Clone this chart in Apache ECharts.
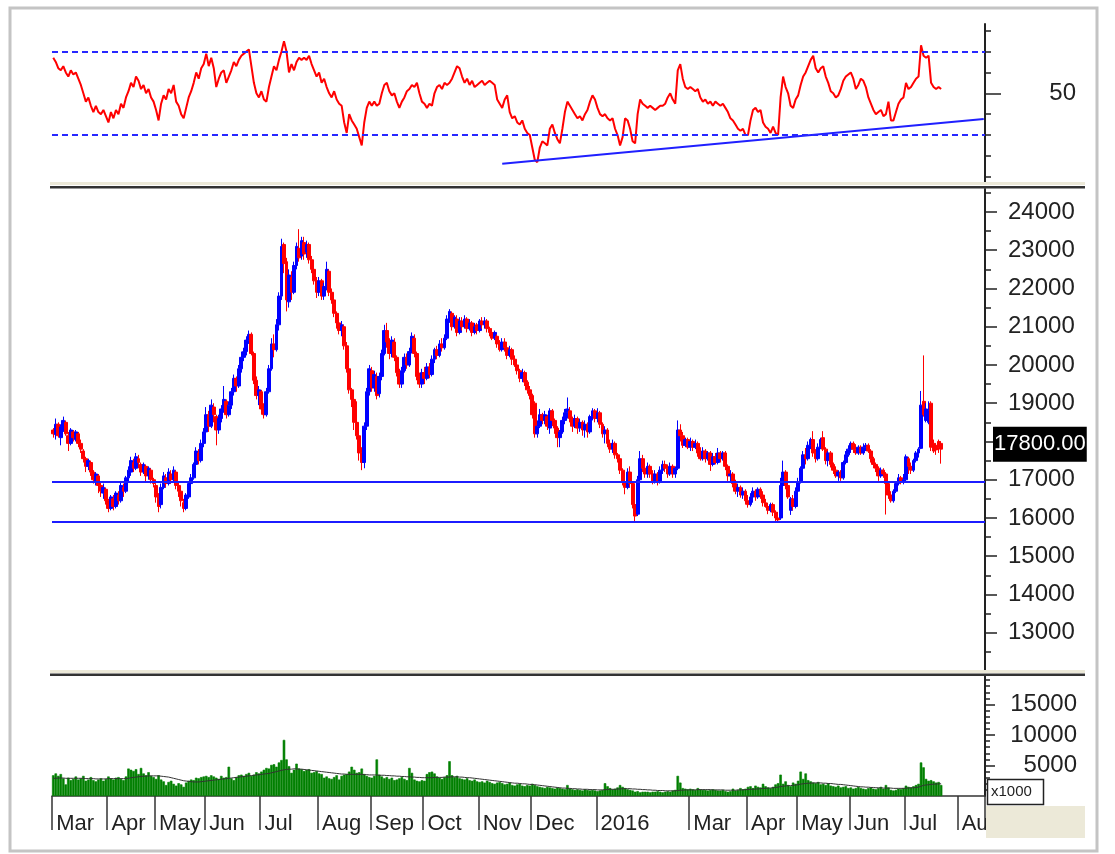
<!DOCTYPE html>
<html><head><meta charset="utf-8">
<script src="https://cdn.jsdelivr.net/npm/echarts@6/dist/echarts.min.js"></script>
<style>html,body{margin:0;padding:0;background:#fff}#c{width:1115px;height:854px}</style>
</head><body><div id="c"></div>
<script>
// ---------- DATA ----------
const monthNames = ['Mar','Apr','May','Jun','Jul','Aug','Sep','Oct','Nov','Dec','2016','Feb','Mar','Apr','May','Jun','Jul','Aug'];
const monthDays  = [22,19,20,22,23,21,21,22,21,26,20,17,23,20,21,22,21,11];
const hiddenMonthLabels = ['Feb'];

// daily candles [open, close, low, high]
const candles = [
// Mar 2015
[18300,18200,18100,18350],[18180,18450,18050,18600],[18450,18150,18100,18500],[18100,18380,17900,18450],[18300,18550,18250,18650],
[18500,18200,18150,18550],[18150,17950,17750,18250],[17950,18300,17900,18350],[18250,18100,18000,18300],[18050,18250,18000,18300],
[18200,17950,17850,18250],[17950,17800,17700,18050],[17750,17550,17450,17800],[17550,17350,17200,17600],[17350,17500,17250,17550],
[17450,17200,17100,17500],[17200,17000,16900,17250],[16950,17150,16850,17200],[17100,16850,16650,17150],[16850,16700,16550,16950],
[16650,16800,16500,16900],[16750,16450,16350,16800],
// Apr
[16450,16250,16150,16500],[16250,16550,16200,16600],[16500,16300,16200,16600],[16300,16650,16250,16700],[16600,16450,16350,16700],
[16450,16850,16400,16950],[16800,16700,16550,16900],[16700,17050,16650,17100],[17050,17250,16950,17350],[17200,17500,17100,17600],
[17450,17300,17200,17550],[17300,17600,17250,17700],[17550,17450,17300,17650],[17400,17200,17100,17450],[17200,17400,17150,17450],
[17350,17100,16950,17400],[17100,17300,17000,17350],[17250,17000,16900,17300],[17000,16900,16800,17050],
// May
[16850,16550,16400,16900],[16550,16300,16150,16650],[16350,16800,16250,16900],[16800,17100,16750,17200],[17050,16900,16800,17150],
[16900,17200,16850,17300],[17150,17000,16900,17250],[17000,17250,16950,17350],[17200,16850,16750,17250],[16850,16700,16550,16950],
[16700,16450,16300,16750],[16400,16250,16150,16500],[16250,16600,16200,16650],[16550,16900,16500,16950],[16900,17050,16800,17150],
[17050,17400,17000,17450],[17400,17750,17300,17850],[17700,17500,17400,17800],[17500,17950,17450,18050],[17950,18250,17850,18350],
// Jun
[18250,18700,18200,18900],[18700,18400,18250,18800],[18400,18950,18350,19100],[18900,18700,18500,19000],[18650,18300,17900,18700],
[18300,18600,18200,18700],[18600,18850,18500,18950],[18850,19100,18750,19450],[19050,18700,18600,19100],[18700,18950,18650,19050],
[18950,19300,18850,19400],[19300,19650,19200,19750],[19650,19450,19300,19700],[19450,19900,19400,20000],[19900,20200,19800,20350],
[20200,20350,20100,20450],[20350,20650,20250,20750],[20650,20800,20550,20900],[20800,20300,20250,20850],[20300,19600,19500,20350],
[19600,19200,19100,19700],[19200,19350,18950,19450],
// Jul
[19300,18850,18700,19350],[18850,18700,18600,19000],[18700,19300,18650,19400],[19300,19900,19250,20000],[19900,20550,19850,20700],
[20550,20400,20200,20800],[20400,21050,20350,21200],[21050,21800,20900,21900],[21800,23100,21700,23300],[23150,22650,22400,23200],
[22700,21700,21400,22800],[21650,22350,21500,22500],[22300,21900,21700,22450],[21900,22600,21850,22700],[22600,23100,22500,23200],
[23050,22800,22700,23550],[22850,23250,22750,23350],[23200,22900,22750,23350],[22950,23150,22800,23250],[23150,22750,22650,23200],
[22750,22500,22400,22850],[22500,22200,22100,22600],[22200,21900,21750,22300],
// Aug
[21900,22200,21800,22300],[22200,21800,21700,22250],[21800,22050,21700,22150],[22050,22500,21950,22700],[22450,21900,21800,22500],
[21900,21700,21600,22000],[21700,21350,21250,21750],[21350,21100,20950,21400],[21100,20900,20800,21200],[20900,21050,20750,21150],
[21000,20500,20400,21050],[20500,19900,19800,20600],[19900,19350,19250,20000],[19350,19100,18900,19400],[19100,18500,18300,19150],
[18500,18150,18050,19050],[18150,17700,17500,18300],[17700,17450,17250,17850],[17450,18400,17300,18500],[18400,19300,18300,19400],
[19300,19900,19200,20000],
// Sep
[19850,19400,19300,19950],[19400,19750,19300,19850],[19700,19200,19100,19800],[19250,19700,19150,19800],[19700,20300,19600,20400],
[20300,20900,20250,21050],[20900,20600,20450,21100],[20600,20300,20150,20700],[20300,20650,20200,20750],[20600,20200,20100,20700],
[20200,19800,19700,20250],[19800,19500,19400,19900],[19500,19850,19400,19950],[19850,20200,19800,20300],[20200,20000,19900,20300],
[20000,20350,19950,20450],[20350,20750,20300,20850],[20700,20300,20200,20800],[20300,19700,19600,20350],[19700,19500,19400,19800],
[19500,19800,19400,19900],
// Oct
[19800,19650,19500,19950],[19650,19950,19600,20050],[19950,19750,19650,20050],[19750,20150,19700,20250],[20150,20400,20050,20450],
[20400,20250,20150,20500],[20250,20550,20200,20650],[20550,20450,20350,20700],[20450,20700,20400,20800],[20700,21200,20650,21300],
[21200,21400,21100,21460],[21350,21000,20900,21400],[21000,21250,20950,21300],[21200,20850,20750,21300],[20850,21150,20800,21250],
[21150,21000,20900,21250],[21000,21200,20950,21300],[21200,20950,20850,21250],[20950,21100,20900,21200],[21100,20850,20750,21150],
[20850,21000,20800,21100],[21050,20900,20800,21100],
// Nov
[20900,21150,20850,21200],[21150,21050,20950,21250],[21050,21150,20950,21250],[21150,20950,20850,21200],[20950,20850,20750,21000],
[20850,20700,20650,20950],[20700,20850,20650,20900],[20750,20550,20450,20800],[20550,20400,20350,20650],[20400,20600,20350,20700],
[20600,20450,20350,20700],[20450,20250,20150,20550],[20250,20400,20200,20500],[20400,20150,20000,20450],[20150,20000,19950,20250],
[20000,19850,19750,20100],[19850,19650,19550,19900],[19650,19800,19550,19900],[19800,19550,19450,19850],[19550,19350,19250,19600],
[19350,19200,19100,19450],
// Dec
[19200,18700,18600,19250],[19000,18200,18100,19050],[18200,18400,18100,18550],[18400,18700,18350,18850],[18700,18550,18450,18750],
[18550,18700,18450,18800],[18650,18400,18300,18700],[18350,18800,18200,18870],[18800,18550,18400,18850],[18550,18350,18200,18600],
[18350,18100,17850,18400],[18100,18250,17850,18300],[18250,18550,18200,18650],[18550,18750,18450,18850],[18750,18850,18600,19150],
[18800,18600,18500,18900],[18600,18400,18250,18650],[18400,18600,18350,18700],[18600,18350,18200,18650],[18350,18500,18250,18600],
[18500,18300,18150,18550],[18300,18450,18100,18550],[18450,18250,18100,18500],[18250,18650,18200,18700],[18650,18800,18550,18870],
[18800,18600,18500,18850],
// Jan 2016
[18600,18750,18500,18870],[18750,18450,18350,18800],[18450,18200,18100,18500],[18200,18300,17950,18400],[18300,17950,17850,18350],
[17950,17800,17700,18050],[17800,17950,17700,18050],[17950,17650,17550,18000],[17650,17550,17450,17700],[17550,17250,17150,17600],
[17250,16950,16850,17300],[16950,16800,16620,17100],[16800,17200,16750,17300],[17200,16900,16800,17350],[16900,16350,16250,16950],
[16350,16050,15920,16400],[16100,17000,16050,17100],[17000,17550,16950,17750],[17550,17300,17200,17650],[17300,17150,17050,17450],
// Feb
[17150,17350,17050,17450],[17350,17150,17050,17400],[17150,16950,16880,17250],[16950,17150,16900,17250],[17150,16950,16850,17200],
[16950,17250,16900,17350],[17250,17400,17150,17500],[17400,17300,17200,17500],[17300,17150,17050,17400],[17150,17350,17100,17450],
[17350,17150,17050,17400],[17150,17300,17050,17350],[17300,18300,17250,18550],[18300,18150,18000,18450],[18150,17900,17830,18250],
[17900,18050,17850,18100],[18050,17850,17800,18100],
// Mar
[17850,18000,17750,18100],[18000,17850,17750,18050],[17850,17950,17800,18050],[17950,17700,17600,18000],[17700,17550,17500,17850],
[17550,17750,17500,17850],[17750,17550,17450,17800],[17550,17700,17500,17750],[17700,17400,17230,17750],[17400,17600,17350,17700],
[17600,17450,17400,17700],[17450,17700,17400,17830],[17700,17550,17450,17750],[17550,17700,17500,17750],[17700,17350,17250,17750],
[17350,17100,16970,17400],[17100,17150,16950,17250],[17150,16900,16800,17200],[16900,16700,16620,17000],[16700,16800,16550,16900],
[16800,16600,16530,16850],[16600,16700,16500,16800],[16700,16450,16350,16750],
// Apr
[16450,16350,16270,16600],[16350,16550,16300,16650],[16550,16700,16400,16800],[16700,16550,16450,16750],[16550,16750,16500,16800],
[16750,16600,16500,16800],[16600,16400,16300,16700],[16400,16300,16270,16500],[16300,16200,16100,16400],[16200,16350,16150,16400],
[16350,16150,16050,16400],[16150,16000,15920,16200],[16000,15950,15900,16150],[16000,16850,15950,17050],[16850,17200,16800,17500],
[17200,16850,16750,17250],[16850,16550,16500,16900],[16200,16500,16080,16550],[16500,16300,16200,16600],[16300,16700,16250,16800],
// May
[16700,16950,16450,17050],[16950,17300,16900,17350],[17300,17650,17250,17750],[17650,17550,17400,17830],[17550,17900,17500,18000],
[17900,18050,17800,18100],[18050,17700,17600,18270],[17700,17550,17450,17800],[17550,17850,17500,17950],[17850,18050,17800,18100],
[18100,17800,17750,18270],[17800,17500,17400,17850],[17500,17700,17350,17750],[17700,17400,17320,17750],[17400,17250,17150,17450],
[17250,17100,17050,17350],[17100,17200,16970,17250],[17200,17050,16970,17250],[17050,17450,17000,17500],[17450,17650,17400,17750],
[17650,17800,17600,17900],
// Jun
[17800,17950,17700,18000],[17950,17800,17700,18000],[17800,17700,17650,17930],[17700,17850,17650,17900],[17850,17700,17650,17900],
[17700,17850,17650,17950],[17850,17900,17750,17960],[17900,17750,17700,17950],[17750,17550,17450,17800],[17550,17400,17300,17600],
[17400,17300,17200,17450],[17300,17100,16970,17350],[17100,17250,17050,17320],[17250,17150,17050,17300],[17150,16900,16090,17200],
[16900,16600,16500,16950],[16600,16450,16400,16700],[16450,16700,16400,16750],[16700,16900,16650,16950],[16900,17050,16850,17150],
[17050,16950,16880,17100],[16950,17000,16880,17150],
// Jul
[17000,17600,16950,17660],[17550,17350,17150,17600],[17350,17250,17150,17450],[17250,17500,17200,17550],[17500,17700,17450,17750],
[17700,17800,17580,17850],[17820,18950,17800,19320],[19050,18700,18650,20250],[18550,18850,18500,19000],[18500,18800,18450,19050],
[19000,17850,17750,19050],[17950,17750,17700,18050],[17900,17780,17650,17950],[18000,17850,17700,18050],[17950,17800,17420,18000]
];

const rsi = [
67,65,62,61,63,60,58,61,59,60, 57,54,50,46,48,44,41,44,41,40, 42,39,36,41,38,42,40,45,43,48,
51,55,53,58,56,52,54,50,52,48, 46,42,37,45,49,47,52,50,54,46, 44,40,38,43,48,51,55,60,57,62,
64,69,63,67,62,53,57,60,61,55, 58,61,65,63,66,68,69,70,71,63, 55,50,48,51,47,46,53,58,63,61,
66,70,75,70,60,64,61,65,67,66, 67,66,68,64,61,58,60,55,57,53, 50,48,51,47,45,44,36,31,40,37,
35,33,29,25,36,43,46,44,46,44, 45,50,54,55,51,49,50,46,43,46, 48,51,52,54,53,55,50,46,45,43,
45,44,50,53,54,52,55,54,55,57, 60,63,62,58,55,57,54,56,53,54, 55,56,54,55,56,55,54,47,45,43,
47,49,41,38,39,36,35,37,33,31, 30,24,18,17,24,27,26,25,33,35, 31,28,26,33,41,46,44,42,40,38,
39,37,40,42,46,49,47,43,40,39, 40,38,37,38,33,30,25,29,38,37, 33,27,26,40,47,45,44,43,44,43,
42,43,44,44,45,48,50,47,45,61, 64,57,53,52,53,52,51,52,48,46, 47,45,46,44,46,45,44,45,43,41,
38,37,35,33,32,33,30,30,37,42, 43,41,42,36,34,33,31,34,31,30, 48,58,53,50,44,43,47,49,54,58,
60,63,66,68,62,60,62,63,58,55, 51,50,48,49,52,56,58,59,60,57, 52,54,57,56,53,48,45,42,40,41,
42,39,40,46,37,37,41,45,47,48, 55,52,53,55,57,58,73,68,67,68, 55,53,52,53,52
];

// volume (x1000)
const volume = [
3400,3700,3300,3600,2900,1900,3000,2600,2800,3200, 2700,2900,3300,2500,2700,3100,2600,2400,2700,2900,
2500,2800,3200,2900,2700,3000,3100,2800,2600,3200, 4500,4300,4100,4400,3600,4600,3700,3400,3900,3300,
3100,2800,3400,2700,2400,1800,2300,2500,2000,1700, 2100,1900,1500,2200,2500,2700,2600,3000,2900,3100,
3200,3300,3100,3400,3200,3000,2800,3300,3000,3100, 4800,2900,2600,3100,3400,3500,3300,3600,3800,3300,
3500,3900,3700,4000,4300,4600,4500,5100,5200,4800, 5500,5900,9200,6000,4900,3800,4300,5300,4500,4400,
4100,4300,4400,3800,3900,4100,3700,3600,3000,3200, 2900,2800,3100,3400,2700,3300,3500,3600,4000,4800,
4300,3800,3900,4500,3600,3300,3100,3000,3300,6000, 3500,3200,2900,3100,2800,3000,2600,2700,2900,3100,
2800,2600,4600,3800,2700,2500,2400,2600,2500,3600, 3900,4000,3700,3200,3000,2800,3100,3400,5700,3400,
3100,3300,2900,2800,2700,2900,2600,2500,2700,2400, 2300,2400,2200,2500,2300,2100,2000,2200,2300,2100,
1900,2000,2200,1800,1700,1900,2000,1700,1600,1800, 1700,2000,1800,1600,1500,1400,1300,1500,1400,1300,
1200,1400,1300,1200,1100,1800,1200,1100,1000,1100, 1000,900,1100,1000,900,1000,900,800,900,1000,
2100,1600,1300,1100,1200,1400,1800,1500,1300,1100, 1000,900,700,800,600,700,700,700,600,700,
700,800,700,600,700,800,700,900,1000,3300, 2200,1300,1200,1100,1200,1100,1000,1300,1100,1000,
1000,900,1000,1100,1000,900,900,1000,800,700, 800,1200,900,1000,1300,1100,1200,1500,1600,1300,
1700,1500,1400,2000,1600,1400,1300,1500,1900,2100, 3500,2000,2400,1800,1600,2200,2000,2500,4000,2800,
3700,2600,2400,2200,2100,2300,1900,2000,1800,2100, 1700,1600,1500,1700,1400,1500,1600,1300,1400,1200,
1300,1500,1300,1200,1100,1300,1400,1200,1100,1300, 1500,1200,1800,1400,1000,900,1000,1200,1100,1300,
1700,1500,1400,1600,1800,2000,5500,4700,2800,2500, 2600,2400,2200,2300,1800
];

// volume moving-average line (x1000)
const volumeMA = [
2900,2900,2950,2950,2950,2900,2900,2900,2900,2900, 2900,2900,2900,2850,2850,2850,2850,2800,2800,2800,
2800,2800,2850,2850,2850,2850,2850,2850,2850,2850, 2900,3000,3050,3100,3150,3200,3250,3250,3300,3300,
3300,3300,3300,3250,3200,3150,3100,3000,2900,2800, 2700,2600,2500,2450,2400,2350,2300,2300,2300,2350,
2400,2450,2500,2550,2600,2650,2700,2750,2800,2850, 2900,2950,3000,3050,3100,3150,3200,3250,3300,3350,
3400,3450,3500,3550,3600,3650,3700,3800,3900,4000, 4100,4200,4300,4350,4400,4400,4450,4450,4400,4400,
4350,4300,4250,4200,4150,4100,4050,4000,3950,3900, 3850,3800,3750,3700,3650,3600,3600,3550,3550,3550,
3550,3550,3550,3550,3500,3500,3450,3450,3450,3450, 3400,3400,3400,3350,3350,3300,3300,3250,3250,3200,
3200,3150,3150,3100,3100,3050,3050,3000,3000,3000, 3000,3000,3050,3050,3050,3050,3100,3100,3100,3150,
3150,3150,3100,3100,3050,3000,3000,2950,2900,2850, 2800,2750,2700,2650,2600,2550,2500,2450,2400,2350,
2300,2250,2200,2150,2100,2100,2050,2000,2000,1950, 1900,1900,1850,1800,1750,1700,1650,1600,1550,1500,
1450,1400,1350,1300,1300,1250,1250,1200,1200,1150, 1150,1100,1100,1100,1050,1050,1050,1000,1000,1000,
1050,1050,1100,1100,1100,1150,1150,1200,1200,1200, 1200,1150,1150,1100,1100,1050,1050,1000,1000,950,
950,900,900,900,850,850,850,850,850,900, 950,950,1000,1000,1000,1000,1000,1050,1050,1050,
1050,1050,1050,1000,1000,1000,1000,1000,950,950, 950,950,950,1000,1000,1000,1050,1050,1100,1100,
1150,1150,1200,1250,1250,1300,1300,1350,1400,1450, 1550,1600,1650,1700,1700,1750,1800,1850,1950,2000,
2050,2100,2100,2150,2150,2150,2150,2100,2100,2050, 2050,2000,1950,1900,1900,1850,1800,1750,1700,1650,
1600,1550,1500,1500,1450,1450,1400,1400,1350,1350, 1350,1300,1300,1300,1300,1250,1250,1250,1250,1250,
1300,1300,1350,1350,1400,1450,1600,1750,1800,1850, 1900,1950,1950,2000,2000
];

const rsiBands = [70, 30];
const supportLevels = [16960, 15900];
const rsiTrend = [[179, 16.2], [371, 37.7]];   // [day index, RSI]
const rsiTicks = [10,20,30,40,50,60,70,80];
const rsiLabels = [50];
const priceMajor = [12000,13000,14000,15000,16000,17000,18000,19000,20000,21000,22000,23000,24000];
const priceLabels = [13000,14000,15000,16000,17000,18000,19000,20000,21000,22000,23000,24000];
const priceMinor = [12500,13500,14500,15500,16500,17500,18500,19500,20500,21500,22500,23500,24500];
const volMajor = [5000,10000,15000];
const volMinor = [1000,2000,3000,4000,6000,7000,8000,9000,11000,12000,13000,14000,16000,17000,18000,19000];

// ---------- BUILD ----------
const categories = [];
const monthStartIdx = {};
monthNames.forEach((m, k) => {
  monthStartIdx[categories.length] = m;
  for (let d = 1; d <= monthDays[k]; d++) categories.push(k + '-' + d);
});
const trendData = categories.map(() => null);
rsiTrend.forEach(([i, v]) => { trendData[i] = v; });
const lastClose = candles[candles.length - 1][1];

const FONT = 'Liberation Sans';
const AX = '#222';
const GL = 52, GW = 933;
const plain = (v) => String(v);

function hiddenX(gi) {
  return { type: 'category', gridIndex: gi, data: categories, boundaryGap: true, show: false };
}
function yBase(gi, min, max, ticks, tickLen, showLine) {
  return {
    type: 'value', gridIndex: gi, position: 'right', min: min, max: max, scale: true,
    splitLine: { show: false },
    axisLine: { show: showLine, onZero: false, lineStyle: { color: AX, width: 2 } },
    axisTick: { show: true, customValues: ticks, length: tickLen, lineStyle: { color: AX, width: 1.5 } },
    axisLabel: { show: false }
  };
}
function yLabel(values, margin, align) {
  return { show: true, customValues: values, margin: margin, align: align, formatter: plain,
    fontSize: 24, color: '#222', fontFamily: FONT };
}

const chart = echarts.init(document.getElementById('c'), null, { renderer: 'canvas' });
chart.setOption({
  animation: false,
  backgroundColor: '#fff',
  textStyle: { fontFamily: FONT },
  grid: [
    { left: GL, top: 24, width: GW, height: 159 },
    { left: GL, top: 189, width: GW, height: 482 },
    { left: GL, top: 676, width: GW, height: 120 }
  ],
  xAxis: [
    hiddenX(0), hiddenX(1),
    {
      type: 'category', gridIndex: 2, data: categories, boundaryGap: true, position: 'bottom', offset: 8,
      axisLine: { show: true, lineStyle: { color: '#333', width: 1.5 } },
      axisTick: { show: true, alignWithLabel: false, length: 34,
        interval: (i) => monthStartIdx[i] !== undefined && hiddenMonthLabels.indexOf(monthStartIdx[i]) < 0,
        lineStyle: { color: '#333', width: 1.5 } },
      axisLabel: { show: true, interval: (i) => monthStartIdx[i] !== undefined && hiddenMonthLabels.indexOf(monthStartIdx[i]) < 0,
        formatter: (v, i) => monthStartIdx[i] || '', align: 'left', margin: 9, padding: [0, 0, 0, 3],
        fontSize: 22, color: '#222', fontFamily: FONT },
      splitLine: { show: false }
    },
    {
      type: 'category', gridIndex: 2, data: categories, boundaryGap: true, position: 'bottom', offset: 8,
      axisLine: { show: false },
      axisTick: { show: true, length: 4, interval: (i) => hiddenMonthLabels.indexOf(monthStartIdx[i]) >= 0,
        lineStyle: { color: '#333', width: 1.5 } },
      axisLabel: { show: false }, splitLine: { show: false }
    }
  ],
  yAxis: [
    yBase(0, 7, 83.2, rsiTicks, 6, true),
    Object.assign(yBase(0, 7, 83.2, rsiLabels, 16, false), { axisLabel: yLabel(rsiLabels, 91, 'right') }),
    Object.assign(yBase(1, 12000, 24600, priceMajor, 12, true), { axisLabel: yLabel(priceLabels, 23, 'left') }),
    yBase(1, 12000, 24600, priceMinor, 6, false),
    Object.assign(yBase(2, 0, 19670, volMajor, 10, true), { axisLabel: yLabel(volMajor, 92, 'right') }),
    yBase(2, 0, 19670, volMinor, 5, false)
  ],
  series: [
    {
      type: 'line', name: 'RSI', xAxisIndex: 0, yAxisIndex: 0, data: rsi, symbol: 'none',
      lineStyle: { color: '#ff0000', width: 2 }, z: 3,
      markLine: { silent: true, symbol: 'none', label: { show: false },
        lineStyle: { color: '#2828ff', width: 2, type: [6, 4] },
        data: rsiBands.map(v => ({ yAxis: v })) }
    },
    {
      type: 'line', name: 'RSI trend', xAxisIndex: 0, yAxisIndex: 0, data: trendData, connectNulls: true,
      symbol: 'none', lineStyle: { color: '#2020ff', width: 2 }, z: 4
    },
    {
      type: 'candlestick', name: 'Price', xAxisIndex: 1, yAxisIndex: 2, data: candles, barWidth: 3.4,
      itemStyle: { color: '#0000ff', color0: '#ff0000', borderColor: '#0000ff', borderColor0: '#ff0000', borderWidth: 1 },
      markLine: { silent: true, symbol: 'none', z: 10,
        data: supportLevels.map(v => ({ yAxis: v, lineStyle: { color: '#1c1cff', width: 2, type: 'solid' }, label: { show: false } }))
          .concat([{ yAxis: lastClose, lineStyle: { color: 'rgba(0,0,0,0)', width: 1 },
            label: { show: true, position: 'end', distance: 8, offset: [0, -5], formatter: lastClose.toFixed(2),
              backgroundColor: '#000', color: '#fff', fontSize: 22, fontFamily: FONT, padding: [7, 1, 6, 1] } }])
      }
    },
    {
      type: 'bar', name: 'Volume', xAxisIndex: 2, yAxisIndex: 4, data: volume, barCategoryGap: '0%',
      itemStyle: { color: '#008000', borderColor: '#008000', borderWidth: 0.6 }
    },
    {
      type: 'line', name: 'Volume MA', xAxisIndex: 2, yAxisIndex: 4, data: volumeMA, symbol: 'none',
      lineStyle: { color: '#333', width: 1 }, z: 4
    }
  ],
  graphic: [
    { type: 'rect', z: 100, shape: { x: 10, y: 8, width: 1087, height: 843 }, style: { fill: 'none', stroke: '#c4c4c4', lineWidth: 3 } },
    { type: 'rect', z: 100, shape: { x: 50, y: 182, width: 1035, height: 3 }, style: { fill: '#ece9d8' } },
    { type: 'rect', z: 100, shape: { x: 50, y: 186, width: 1035, height: 2.5 }, style: { fill: '#333' } },
    { type: 'rect', z: 100, shape: { x: 50, y: 670, width: 1035, height: 3 }, style: { fill: '#ece9d8' } },
    { type: 'rect', z: 100, shape: { x: 50, y: 673.5, width: 1035, height: 2.5 }, style: { fill: '#333' } },
    { type: 'rect', z: 100, shape: { x: 986, y: 806, width: 99, height: 32 }, style: { fill: '#ece9d8' } },
    { type: 'rect', z: 100, shape: { x: 987.5, y: 779.5, width: 56, height: 25 }, style: { fill: '#fff', stroke: '#222', lineWidth: 1.5 } },
    { type: 'text', z: 101, x: 991, y: 784, style: { text: 'x1000', fontSize: 15, fontFamily: FONT, fill: '#222' } }
  ]
});
</script>
</body></html>
